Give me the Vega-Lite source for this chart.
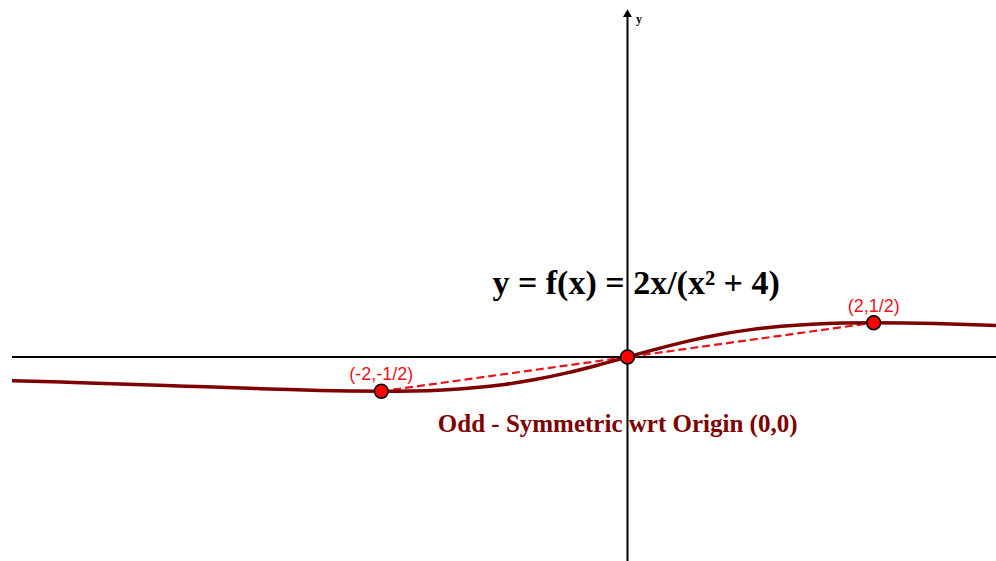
{
  "$schema": "https://vega.github.io/schema/vega-lite/v6.json",
  "width": 996,
  "height": 561,
  "padding": 0,
  "autosize": {"type": "fit", "contains": "padding"},
  "background": "white",
  "config": {"view": {"stroke": null}},
  "datasets": {
    "axes": [
      {"x": -5.0, "x2": 3.2, "y": 0, "y2": 0},
      {"x": 0, "x2": 0, "y": -3.2, "y2": 5.0}
    ],
    "arrow": [{"x": 0, "y": 5.02}],
    "curve": [
      {"x": -5.0, "y": -0.3448}, {"x": -4.75, "y": -0.3576}, {"x": -4.5, "y": -0.3711},
      {"x": -4.25, "y": -0.3853}, {"x": -4.0, "y": -0.4}, {"x": -3.75, "y": -0.4152},
      {"x": -3.5, "y": -0.4308}, {"x": -3.25, "y": -0.4464}, {"x": -3.0, "y": -0.4615},
      {"x": -2.75, "y": -0.4757}, {"x": -2.5, "y": -0.4878}, {"x": -2.25, "y": -0.4966},
      {"x": -2.0, "y": -0.5}, {"x": -1.75, "y": -0.4956}, {"x": -1.5, "y": -0.48},
      {"x": -1.25, "y": -0.4494}, {"x": -1.0, "y": -0.4}, {"x": -0.75, "y": -0.3288},
      {"x": -0.5, "y": -0.2353}, {"x": -0.25, "y": -0.1231}, {"x": 0.0, "y": 0.0},
      {"x": 0.25, "y": 0.1231}, {"x": 0.5, "y": 0.2353}, {"x": 0.75, "y": 0.3288},
      {"x": 1.0, "y": 0.4}, {"x": 1.25, "y": 0.4494}, {"x": 1.5, "y": 0.48},
      {"x": 1.75, "y": 0.4956}, {"x": 2.0, "y": 0.5}, {"x": 2.25, "y": 0.4966},
      {"x": 2.5, "y": 0.4878}, {"x": 2.75, "y": 0.4757}, {"x": 3.0, "y": 0.4615},
      {"x": 3.25, "y": 0.4485}
    ],
    "points": [
      {"x": -2, "y": -0.5, "label": "(-2,-1/2)"},
      {"x": 0, "y": 0, "label": ""},
      {"x": 2, "y": 0.5, "label": "(2,1/2)"}
    ],
    "notes": [
      {"x": 0.07, "y": 1.06, "text": "y = f(x) = 2x/(x² + 4)", "kind": "formula"},
      {"x": -0.08, "y": -0.98, "text": "Odd - Symmetric wrt Origin (0,0)", "kind": "caption"},
      {"x": 0.07, "y": 4.93, "text": "y", "kind": "axis"}
    ]
  },
  "encoding": {
    "x": {"field": "x", "type": "quantitative", "axis": null,
          "scale": {"domain": [-5.098, 2.994], "nice": false, "zero": false}},
    "y": {"field": "y", "type": "quantitative", "axis": null,
          "scale": {"domain": [-2.978, 5.212], "nice": false, "zero": false}}
  },
  "layer": [
    {
      "data": {"name": "axes"},
      "mark": {"type": "rule", "color": "black", "strokeWidth": 2, "clip": true},
      "encoding": {"x2": {"field": "x2"}, "y2": {"field": "y2"}}
    },
    {
      "data": {"name": "arrow"},
      "mark": {"type": "point", "shape": "triangle-up", "filled": true, "color": "black", "size": 80, "opacity": 1}
    },
    {
      "data": {"name": "points"},
      "mark": {"type": "line", "color": "#e8141a", "strokeWidth": 2.2, "strokeDash": [8, 4]}
    },
    {
      "data": {"name": "curve"},
      "mark": {"type": "line", "color": "#7f0000", "strokeWidth": 3.5, "interpolate": "monotone", "clip": true}
    },
    {
      "data": {"name": "points"},
      "mark": {"type": "point", "filled": true, "fill": "#ff0000", "stroke": "black", "strokeWidth": 1.5, "size": 190, "opacity": 1}
    },
    {
      "data": {"name": "points"},
      "mark": {"type": "text", "color": "#e8141a", "font": "Liberation Sans", "fontSize": 18, "dy": -16, "align": "center", "baseline": "middle"},
      "encoding": {"text": {"field": "label"}}
    },
    {
      "data": {"name": "notes"},
      "transform": [{"filter": "datum.kind === 'formula'"}],
      "mark": {"type": "text", "color": "black", "font": "Liberation Serif", "fontWeight": "bold", "fontSize": 34, "align": "center", "baseline": "middle"},
      "encoding": {"text": {"field": "text"}}
    },
    {
      "data": {"name": "notes"},
      "transform": [{"filter": "datum.kind === 'caption'"}],
      "mark": {"type": "text", "color": "#7f0000", "font": "Liberation Serif", "fontWeight": "bold", "fontSize": 25, "align": "center", "baseline": "middle"},
      "encoding": {"text": {"field": "text"}}
    },
    {
      "data": {"name": "notes"},
      "transform": [{"filter": "datum.kind === 'axis'"}],
      "mark": {"type": "text", "color": "black", "font": "Liberation Serif", "fontWeight": "bold", "fontSize": 12, "align": "left", "baseline": "middle"},
      "encoding": {"text": {"field": "text"}}
    }
  ]
}
